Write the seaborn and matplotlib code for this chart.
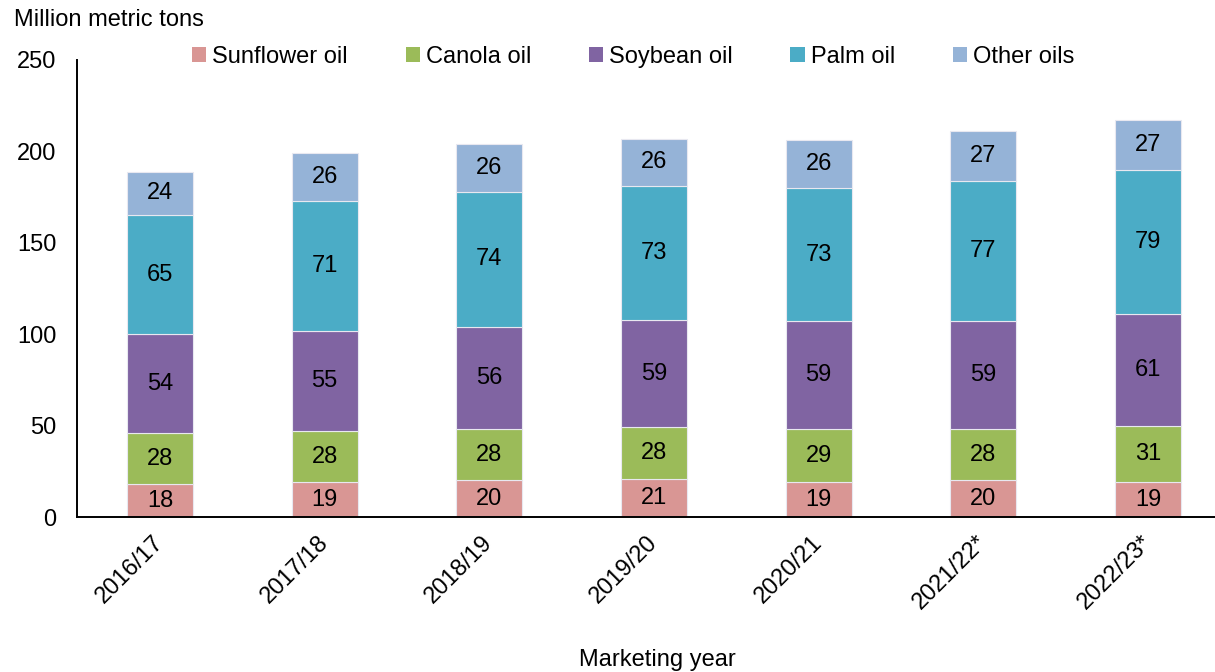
import matplotlib
matplotlib.use("Agg")
import matplotlib.pyplot as plt
from matplotlib.patches import Patch
import seaborn as sns
import pandas as pd
import numpy as np

years = ["2016/17", "2017/18", "2018/19", "2019/20", "2020/21", "2021/22*", "2022/23*"]
sunflower = [18, 19, 20, 21, 19, 20, 19]
canola = [28, 28, 28, 28, 29, 28, 31]
soybean = [54, 55, 56, 59, 59, 59, 61]
palm = [65, 71, 74, 73, 73, 77, 79]
other = [24, 26, 26, 26, 26, 27, 27]

series_names = ["Sunflower oil", "Canola oil", "Soybean oil", "Palm oil", "Other oils"]
series_values = [sunflower, canola, soybean, palm, other]
colors = ["#D99694", "#9BBB59", "#8064A2", "#4BACC6", "#95B3D7"]

sns.set_style("white")
plt.rcParams["font.family"] = ["Liberation Sans", "DejaVu Sans"]
plt.rcParams["text.color"] = "black"
plt.rcParams["xtick.color"] = "black"
plt.rcParams["ytick.color"] = "black"

FS = 17

fig = plt.figure(figsize=(12.15, 6.72), dpi=100)
ax = fig.add_axes([77 / 1215, 1 - 517 / 672, 1 - 77 / 1215, (517 - 60) / 672])

bottom = np.zeros(len(years))
for name, vals, col in zip(series_names, series_values, colors):
    df = pd.DataFrame({"year": years, "value": vals})
    sns.barplot(data=df, x="year", y="value", order=years, color=col,
                width=0.4, bottom=bottom, ax=ax, legend=False,
                edgecolor="#e8e8f0", linewidth=0.8, saturation=1)
    cont = ax.containers[-1]
    ax.bar_label(cont, labels=[str(v) for v in vals], label_type="center",
                 fontsize=FS, color="black")
    bottom = bottom + np.array(vals)

ax.set_ylim(0, 250)
ax.set_xlim(-0.504, 6.407)
ax.set_yticks([0, 50, 100, 150, 200, 250])
ax.set_xlabel("")
ax.set_ylabel("")
for s in ["top", "right"]:
    ax.spines[s].set_visible(False)
for s in ["left", "bottom"]:
    ax.spines[s].set_color("black")
    ax.spines[s].set_linewidth(1.4)
ax.tick_params(axis="y", length=0, pad=15, labelsize=FS)
ax.tick_params(axis="x", length=0, pad=16, labelsize=FS)
for lbl in ax.get_xticklabels():
    lbl.set_rotation(45)
    lbl.set_ha("right")
    lbl.set_va("center")
    lbl.set_rotation_mode("anchor")

handles = [Patch(facecolor=c, edgecolor="none") for c in colors]
fig.legend(handles, series_names, loc="center", bbox_to_anchor=(0.521, 0.915), ncol=5,
           frameon=False, fontsize=FS, handlelength=0.6, handleheight=0.6,
           handletextpad=0.25, columnspacing=2.45)

fig.text(14 / 1215, 1 - 20 / 672, "Million metric tons", fontsize=FS, ha="left", va="center")
fig.text(657 / 1215, 1 - 660 / 672, "Marketing year", fontsize=FS, ha="center", va="center")

fig.savefig("out.png", dpi=100)
